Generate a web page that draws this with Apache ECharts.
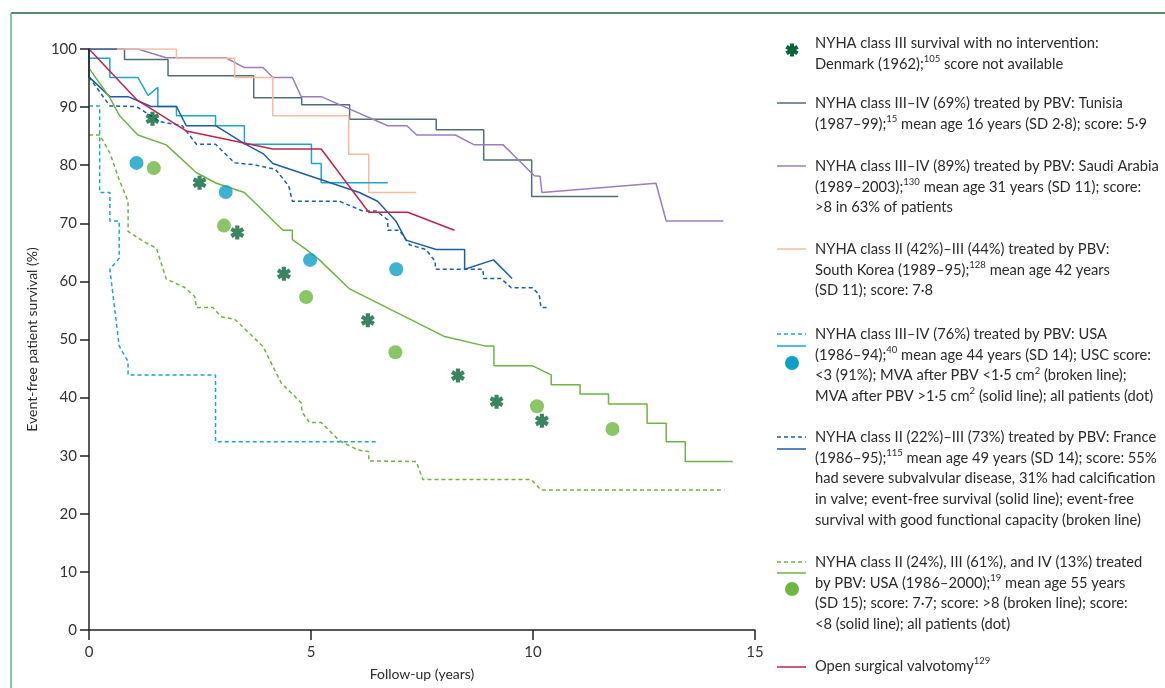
<!DOCTYPE html>
<html><head><meta charset="utf-8">
<script src="https://cdn.jsdelivr.net/npm/echarts@6/dist/echarts.min.js"></script>
<style>html,body{margin:0;padding:0;background:#fff}#c{width:1165px;height:688px}</style>
</head><body><div id="c"></div>
<script>
// ---------- data (years, % event-free survival) ----------
const denmarkStars = [[1.43,88.0],[2.49,77.0],[3.34,68.4],[4.39,61.3],[6.28,53.3],[8.31,43.8],[9.18,39.3],[10.2,36.0]];
const tunisiaKM = [[0,100],[0.8,100],[0.8,98.2],[1.78,98.2],[1.78,95.4],[3.71,95.4],[3.71,91.6],[4.79,91.6],[4.79,90.4],[5.87,90.4],[5.87,87.9],[7.82,87.9],[7.82,86.1],[8.89,86.1],[8.89,80.9],[9.97,80.9],[9.97,74.6],[11.92,74.6]];
const saudiKM = [[0,100],[1.1,100],[1.74,98.5],[3.08,98.5],[3.5,96.8],[3.92,96.8],[4.14,95.1],[4.58,95.1],[4.78,91.8],[5.23,91.8],[6.73,86.8],[7.16,86.8],[7.38,85.2],[8.25,85.2],[8.68,83.5],[9.33,83.5],[10.03,78.2],[10.16,78.1],[10.2,75.3],[12.77,76.9],[13.0,70.4],[14.29,70.4]];
const koreaKM = [[0,100],[1.97,100],[1.97,98.4],[3.28,98.4],[3.28,95.1],[4.14,95.1],[4.14,88.5],[5.85,88.5],[5.85,81.9],[6.3,81.9],[6.3,75.3],[7.37,75.3]];
const usaMvaHigh = [[0,100],[0,98.4],[0.47,98.4],[0.47,95.1],[1.1,95.1],[1.33,92.0],[1.55,93.4],[1.55,90.1],[1.97,90.1],[1.97,88.5],[2.85,88.5],[2.85,86.8],[3.5,86.8],[3.5,83.6],[5.01,83.6],[5.01,80.3],[5.23,80.3],[5.23,77.0],[6.73,77.0]];
const usaMvaLow = [[0,90.2],[0.24,90.2],[0.24,75.3],[0.47,75.3],[0.47,70.4],[0.68,70.4],[0.68,64.0],[0.47,62.1],[0.68,48.9],[0.88,46.2],[0.88,43.9],[2.85,43.9],[2.85,32.4],[6.49,32.4]];
const usaAllDots = [[1.07,80.4],[3.08,75.4],[4.98,63.7],[6.92,62.1]];
const franceEventFree = [[0.63,100],[0,100],[0,95.2],[0.47,91.8],[0.88,91.8],[1.4,90.1],[1.97,90.1],[2.19,86.8],[2.85,86.8],[3.5,83.7],[3.92,82.0],[4.14,80.3],[6.09,75.3],[6.5,73.8],[6.92,70.3],[7.14,67.1],[7.82,65.5],[8.46,65.5],[8.46,62.1],[9.11,63.7],[9.53,60.5]];
const franceGoodFunction = [[0,95.2],[0.47,90.2],[1.07,90.1],[1.6,87.5],[2.1,86.8],[2.42,83.6],[2.85,83.6],[3.28,80.4],[3.7,80.1],[4.2,79.3],[4.5,76.4],[4.58,73.8],[5.64,73.8],[6.17,72.1],[6.47,72.1],[6.73,70.6],[6.73,68.8],[6.99,68.8],[7.22,66.3],[7.59,65.5],[7.8,63.4],[7.8,62.1],[8.87,62.1],[8.89,60.5],[9.28,60.5],[9.51,58.9],[9.99,58.9],[10.14,57.7],[10.18,55.5],[10.37,55.5]];
const usa2000Low = [[0,96.7],[0.47,91.6],[0.69,88.5],[1.1,85.2],[1.74,83.5],[2.42,78.7],[2.87,76.9],[3.5,75.3],[4.37,68.8],[4.58,68.8],[4.58,67.2],[4.89,65.5],[5.19,63.7],[5.87,58.7],[8.01,50.5],[8.91,48.9],[9.12,48.9],[9.12,45.5],[9.98,45.5],[10.41,43.9],[10.41,42.2],[11.06,42.2],[11.06,40.6],[11.7,40.6],[11.7,38.9],[12.57,38.9],[12.57,35.6],[13.0,35.6],[13.0,32.4],[13.43,32.4],[13.43,29.0],[14.5,29.0]];
const usa2000High = [[0,85.2],[0.24,85.2],[0.47,82.1],[0.68,77.5],[0.88,73.8],[0.88,68.6],[1.22,66.9],[1.52,65.7],[1.74,60.4],[2.15,59.0],[2.38,57.4],[2.42,55.5],[2.79,55.5],[2.98,53.9],[3.28,53.5],[3.92,48.8],[4.14,45.4],[4.33,42.5],[4.78,39.1],[4.8,37.5],[4.97,35.7],[5.23,35.7],[5.64,32.6],[6.05,31.0],[6.3,30.7],[6.3,29.1],[7.37,29.0],[7.52,25.9],[9.96,25.9],[10.18,24.1],[14.31,24.1]];
const usa2000AllDots = [[1.46,79.5],[3.04,69.6],[4.89,57.3],[6.9,47.8],[10.09,38.5],[11.79,34.6]];
const surgicalKM = [[0,100],[1.07,91.3],[2.19,85.9],[4.14,82.8],[5.23,82.8],[6.3,71.9],[7.18,71.9],[8.23,68.8]];

const xAxisTitle = 'Follow-up (years)';
const yAxisTitle = 'Event-free patient survival (%)';
const legendTexts = [
  ['NYHA class III survival with no intervention:', 'Denmark (1962);{s|105} score not available'],
  ['NYHA class III–IV (69%) treated by PBV: Tunisia', '(1987–99);{s|15} mean age 16 years (SD 2·8); score: 5·9'],
  ['NYHA class III–IV (89%) treated by PBV: Saudi Arabia', '(1989–2003);{s|130} mean age 31 years (SD 11); score:', '>8 in 63% of patients'],
  ['NYHA class II (42%)–III (44%) treated by PBV:', 'South Korea (1989–95);{s|128} mean age 42 years', '(SD 11); score: 7·8'],
  ['NYHA class III–IV (76%) treated by PBV: USA', '(1986–94);{s|40} mean age 44 years (SD 14); USC score:', '<3 (91%); MVA after PBV <1·5 cm{s|2} (broken line);', 'MVA after PBV >1·5 cm{s|2} (solid line); all patients (dot)'],
  ['NYHA class II (22%)–III (73%) treated by PBV: France', '(1986–95);{s|115} mean age 49 years (SD 14); score: 55%', 'had severe subvalvular disease, 31% had calcification', 'in valve; event-free survival (solid line); event-free', 'survival with good functional capacity (broken line)'],
  ['NYHA class II (24%), III (61%), and IV (13%) treated', 'by PBV: USA (1986–2000);{s|19} mean age 55 years', '(SD 15); score: 7·7; score: >8 (broken line); score:', '<8 (solid line); all patients (dot)'],
  ['Open surgical valvotomy{s|129}']
];

// ---------- styles ----------
const C = {
  star: '#08663a', tunisia: '#4f6e78', saudi: '#9b7cc2', korea: '#f8b9a1',
  usa: '#1aa6cb', usaDot: '#0c9fc8', france: '#1a5ea8', green: '#6db43f', greenDot: '#6db640', red: '#c3224a'
};
const FONT = 'Lato, "Noto Sans", sans-serif';
// six-armed heavy asterisk
const STAR = 'path://M35,0L65,0L65,100L35,100Z M-0.5,37.5L14.5,11.5L100.5,62.5L85.5,88.5Z M85.5,11.5L100.5,37.5L14.5,88.5L-0.5,62.5Z';

function lineSeries(name, data, color, dashed, z) {
  return { name, type: 'line', data, showSymbol: false, symbol: 'none', animation: false, z: z || 2,
    lineStyle: { color, width: 1.5, type: dashed ? [4, 3] : 'solid' } };
}
function dotSeries(name, data, color, symbol, size) {
  return { name, type: 'scatter', data, symbol, symbolSize: size, animation: false, z: 4,
    itemStyle: { color } };
}

// ---------- legend graphics ----------
const LX1 = 777, LX2 = 806, TX = 815, LH = 20.8;
const entryTop = [43.5, 103, 166, 249, 334, 437, 562, 666];
const graphics = [];
graphics.push({ type: 'line', shape: { x1: 11, y1: 13, x2: 1165, y2: 13 }, style: { stroke: '#1f6b3c', lineWidth: 1.5 } });
graphics.push({ type: 'line', shape: { x1: 11, y1: 13, x2: 11, y2: 688 }, style: { stroke: '#5cb488', lineWidth: 1.5 } });
legendTexts.forEach((lines, i) => {
  lines.forEach((t, j) => {
    graphics.push({ type: 'text', x: TX, y: entryTop[i] + j * LH, silent: true,
      style: { text: t, fontFamily: FONT, fontSize: 14.7, fill: '#2b2b2b', verticalAlign: 'middle', lineHeight: 20,
        rich: { s: { fontFamily: FONT, fontSize: 9.5, fill: '#2b2b2b', verticalAlign: 'top', lineHeight: 9 } } } });
  });
});
function hline(y, color, dashed) {
  graphics.push({ type: 'line', shape: { x1: LX1, y1: y, x2: LX2, y2: y },
    style: { stroke: color, lineWidth: 1.5, lineDash: dashed ? [4, 3] : null } });
}
[0, Math.PI / 3, -Math.PI / 3].forEach(r => {
  graphics.push({ type: 'rect', x: 792, y: 50, rotation: r, shape: { x: -2, y: -6.5, width: 4, height: 13 }, style: { fill: C.star } });
});
hline(103, C.tunisia); hline(166, C.saudi); hline(249, C.korea);
hline(334, C.usa, true); hline(346, C.usa); graphics.push({ type: 'circle', shape: { cx: 792, cy: 363, r: 7 }, style: { fill: C.usaDot } });
hline(437, C.france, true); hline(449, C.france);
hline(562, C.green, true); hline(573, C.green); graphics.push({ type: 'circle', shape: { cx: 792, cy: 589, r: 7 }, style: { fill: C.greenDot } });
hline(667, C.red);

const chart = echarts.init(document.getElementById('c'), null, { renderer: 'canvas' });
chart.setOption({
  backgroundColor: '#fff',
  animation: false,
  grid: { left: 89, right: 410, top: 49, bottom: 58 },
  xAxis: {
    type: 'value', min: 0, max: 15, interval: 5, z: 5,
    name: xAxisTitle, nameLocation: 'middle', nameGap: 37,
    nameTextStyle: { fontFamily: FONT, fontSize: 14, color: '#2b2b2b' },
    axisLine: { lineStyle: { color: '#222', width: 1.5 } },
    axisTick: { length: 10, lineStyle: { color: '#222', width: 1.5 } },
    axisLabel: { margin: 15, fontFamily: FONT, fontSize: 15, color: '#333' },
    splitLine: { show: false }
  },
  yAxis: {
    type: 'value', min: 0, max: 100, interval: 10, z: 5,
    name: yAxisTitle, nameLocation: 'middle', nameGap: 50, nameRotate: 90,
    nameTextStyle: { fontFamily: FONT, fontSize: 14, color: '#2b2b2b' },
    axisLine: { show: true, lineStyle: { color: '#222', width: 1.5 } },
    axisTick: { show: true, length: 9, lineStyle: { color: '#222', width: 1.5 } },
    axisLabel: { margin: 12, fontFamily: FONT, fontSize: 15, color: '#333' },
    splitLine: { show: false }
  },
  graphic: graphics,
  series: [
    lineSeries('Tunisia', tunisiaKM, C.tunisia),
    lineSeries('Saudi Arabia', saudiKM, C.saudi),
    lineSeries('South Korea', koreaKM, C.korea),
    lineSeries('USA MVA >1.5', usaMvaHigh, C.usa),
    lineSeries('USA MVA <1.5', usaMvaLow, C.usa, true),
    lineSeries('France event-free', franceEventFree, C.france),
    lineSeries('France good function', franceGoodFunction, C.france, true),
    lineSeries('USA 2000 score <8', usa2000Low, C.green),
    lineSeries('USA 2000 score >8', usa2000High, C.green, true),
    lineSeries('Surgical valvotomy', surgicalKM, C.red, false, 3),
    dotSeries('Denmark', denmarkStars, C.star, STAR, 14),
    dotSeries('USA all', usaAllDots, C.usaDot, 'circle', 14),
    dotSeries('USA 2000 all', usa2000AllDots, C.greenDot, 'circle', 14)
  ]
});
</script>
</body></html>
